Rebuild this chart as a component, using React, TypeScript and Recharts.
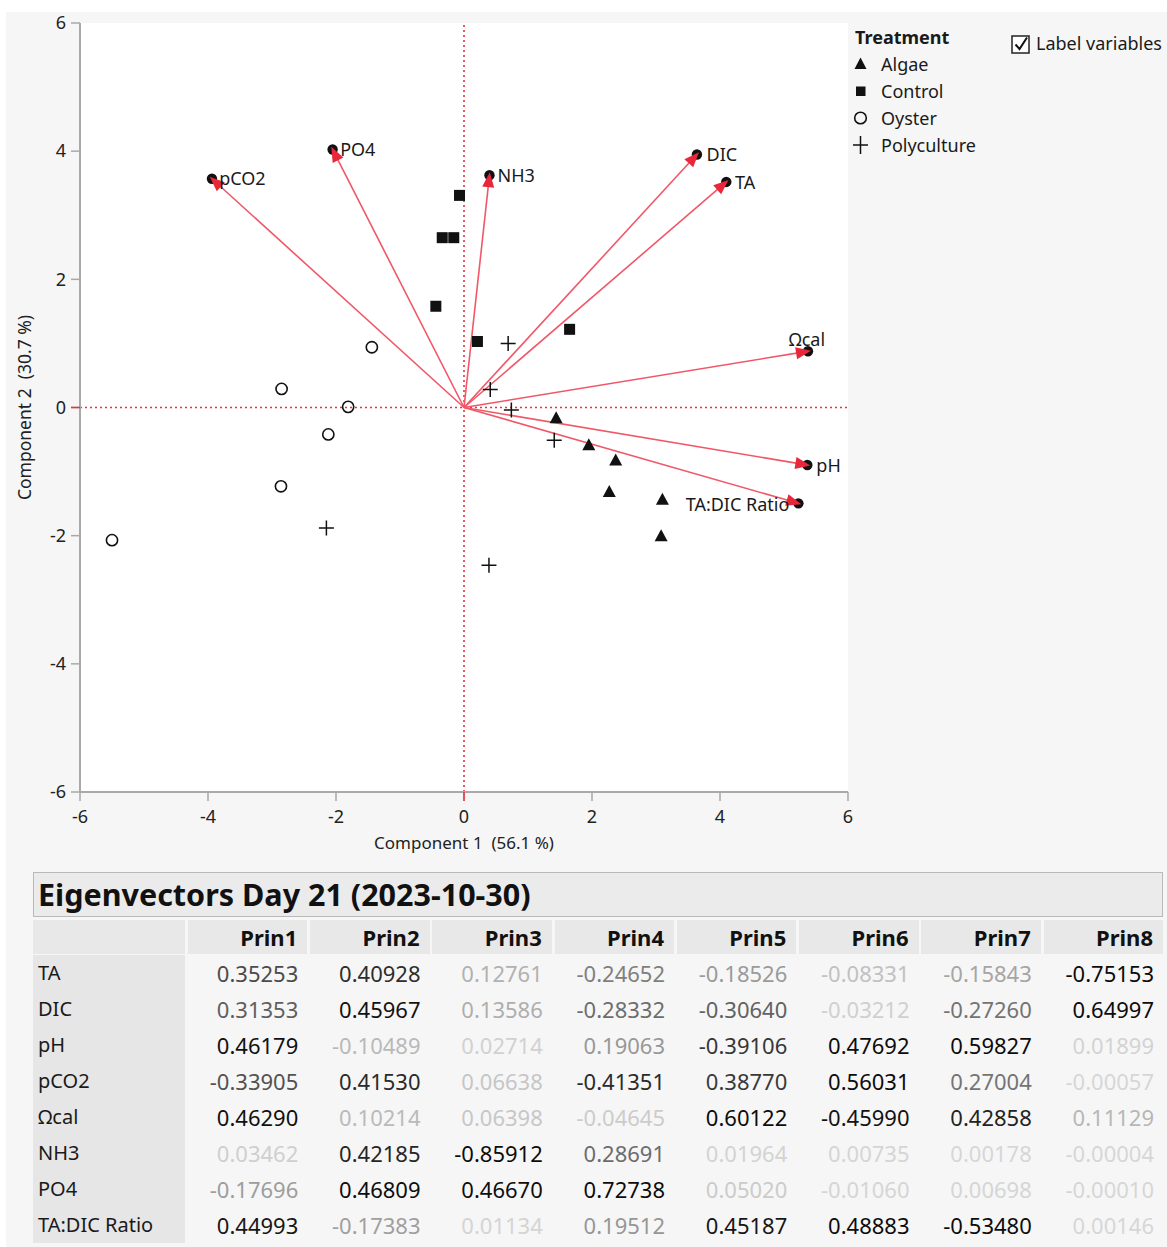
import React from "react";
import {
  ScatterChart,
  Scatter,
  XAxis,
  YAxis,
  CartesianGrid,
  ReferenceLine,
  Legend,
} from "recharts";

// score points per treatment (Component 1, Component 2)
const treatments = ["Algae", "Control", "Oyster", "Polyculture"];

const algaeX = [1.44, 1.95, 2.37, 2.27, 3.1, 3.08];
const algaeY = [-0.16, -0.58, -0.82, -1.31, -1.43, -2.0];

const controlX = [-0.07, -0.34, -0.16, -0.44, 0.21, 1.65];
const controlY = [3.31, 2.65, 2.65, 1.58, 1.03, 1.22];

const oysterX = [-1.44, -2.85, -1.81, -2.12, -2.86, -5.5];
const oysterY = [0.94, 0.29, 0.01, -0.42, -1.23, -2.07];

const polyX = [0.69, 0.41, 0.74, 1.41, -2.15, 0.39];
const polyY = [1.0, 0.28, -0.04, -0.51, -1.88, -2.46];

// loading vectors (biplot arrow tips)
const variableNames = ["TA", "DIC", "pH", "pCO2", "Ωcal", "NH3", "PO4", "TA:DIC Ratio"];
const vectorX = [4.11, 3.65, 5.38, -3.95, 5.39, 0.4, -2.06, 5.24];
const vectorY = [3.53, 3.96, -0.9, 3.58, 0.88, 3.64, 4.04, -1.5];

const axisTicks = [-6, -4, -2, 0, 2, 4, 6];

// eigenvector table
const prinColumns = ["Prin1", "Prin2", "Prin3", "Prin4", "Prin5", "Prin6", "Prin7", "Prin8"];
const eigenTA = [0.35253, 0.40928, 0.12761, -0.24652, -0.18526, -0.08331, -0.15843, -0.75153];
const eigenDIC = [0.31353, 0.45967, 0.13586, -0.28332, -0.3064, -0.03212, -0.2726, 0.64997];
const eigenPH = [0.46179, -0.10489, 0.02714, 0.19063, -0.39106, 0.47692, 0.59827, 0.01899];
const eigenPCO2 = [-0.33905, 0.4153, 0.06638, -0.41351, 0.3877, 0.56031, 0.27004, -0.00057];
const eigenOmega = [0.4629, 0.10214, 0.06398, -0.04645, 0.60122, -0.4599, 0.42858, 0.11129];
const eigenNH3 = [0.03462, 0.42185, -0.85912, 0.28691, 0.01964, 0.00735, 0.00178, -0.00004];
const eigenPO4 = [-0.17696, 0.46809, 0.4667, 0.72738, 0.0502, -0.0106, 0.00698, -0.0001];
const eigenRatio = [0.44993, -0.17383, 0.01134, 0.19512, 0.45187, 0.48883, -0.5348, 0.00146];

const eigenRows = [eigenTA, eigenDIC, eigenPH, eigenPCO2, eigenOmega, eigenNH3, eigenPO4, eigenRatio];

const FONT = "'Noto Sans', 'Open Sans', sans-serif";
const axisGray = "#a9a9a9";
const zeroRed = "#e8323f";
const arrowLine = "#f05868";
const arrowHead = "#e8283a";
const ink = "#111";
const TICK = 9;

// where each variable name sits relative to its arrow tip
const labelPlacement: Record<string, { dx: number; dy: number; anchor: "start" | "middle" | "end" }> = {
  "Ωcal": { dx: -2, dy: -11, anchor: "middle" },
  "TA:DIC Ratio": { dx: -10, dy: 1, anchor: "end" },
  DIC: { dx: 9, dy: 1, anchor: "start" },
};

function toPoints(xs: number[], ys: number[]) {
  return xs.map((x, i) => ({ x, y: ys[i] }));
}

function Marker({ kind, cx, cy }: { kind: string; cx: number; cy: number }) {
  if (kind === "Algae")
    return (
      <polygon
        points={`${cx},${cy - 6.5} ${cx - 6.5},${cy + 5.5} ${cx + 6.5},${cy + 5.5}`}
        fill={ink}
      />
    );
  if (kind === "Control")
    return <rect x={cx - 5.5} y={cy - 5.5} width={11} height={11} fill={ink} />;
  if (kind === "Oyster")
    return <circle cx={cx} cy={cy} r={5.6} fill="none" stroke={ink} strokeWidth={1.6} />;
  return (
    <path
      d={`M${cx - 7.5},${cy}H${cx + 7.5}M${cx},${cy - 7.5}V${cy + 7.5}`}
      stroke={ink}
      strokeWidth={1.5}
      fill="none"
    />
  );
}

function VectorArrow(props: any, name: string) {
  const { x1, y1, x2, y2 } = props;
  const ang = Math.atan2(y2 - y1, x2 - x1);
  const cos = Math.cos(ang);
  const sin = Math.sin(ang);
  // arrow tip reaches just past the black end dot's centre
  const tx = x2 + 2 * cos;
  const ty = y2 + 2 * sin;
  const len = 15;
  const half = 6;
  const bx = tx - len * cos;
  const by = ty - len * sin;
  const px = -sin * half;
  const py = cos * half;
  const place = labelPlacement[name] ?? { dx: 8, dy: 1, anchor: "start" };
  return (
    <g>
      <line x1={x1} y1={y1} x2={bx + 2 * cos} y2={by + 2 * sin} stroke={arrowLine} strokeWidth={1.6} />
      <circle cx={x2 - 1 * cos} cy={y2 - 1 * sin} r={5.2} fill={ink} />
      <polygon points={`${tx},${ty} ${bx + px},${by + py} ${bx - px},${by - py}`} fill={arrowHead} />
      <text
        x={x2 + place.dx}
        y={y2 + place.dy}
        dy="0.35em"
        textAnchor={place.anchor}
        fontSize={18}
        fontFamily={FONT}
        fill="#1a1a1a"
      >
        {name}
      </text>
    </g>
  );
}

function XTick({ x, y, payload }: any) {
  return (
    <g>
      {payload.value === 0 && (
        <line x1={x} x2={x} y1={y - 9 - TICK} y2={y - 9} stroke={zeroRed} strokeWidth={1.5} />
      )}
      <text x={x} y={y} dy="0.71em" textAnchor="middle" fontSize={18} fontFamily={FONT} fill="#222">
        {payload.value}
      </text>
    </g>
  );
}

function YTick({ x, y, payload }: any) {
  return (
    <g>
      {payload.value === 0 && (
        <line x1={x + 5} x2={x + 5 + TICK} y1={y} y2={y} stroke={zeroRed} strokeWidth={1.5} />
      )}
      <text x={x} y={y} dy="0.35em" textAnchor="end" fontSize={18} fontFamily={FONT} fill="#222">
        {payload.value}
      </text>
    </g>
  );
}

function XTitle({ viewBox }: any) {
  const { x, y, width, height } = viewBox;
  return (
    <text
      x={x + width / 2}
      y={y + height - 13}
      textAnchor="middle"
      fontSize={17}
      fontFamily={FONT}
      fill="#222"
      style={{ whiteSpace: "pre" }}
    >
      {"Component 1  (56.1 %)"}
    </text>
  );
}

function YTitle({ viewBox }: any) {
  const { y, height } = viewBox;
  const cx = 25;
  const cy = y + height / 2;
  return (
    <text
      x={cx}
      y={cy}
      dy="0.35em"
      textAnchor="middle"
      transform={`rotate(-90 ${cx} ${cy})`}
      fontSize={17.5}
      fontFamily={FONT}
      fill="#222"
      style={{ whiteSpace: "pre" }}
    >
      {"Component 2  (30.7 %)"}
    </text>
  );
}

function LegendIcon({ kind }: { kind: string }) {
  return (
    <svg width={15} height={20} style={{ display: "block" }}>
      {kind === "Polyculture" ? (
        <path d="M0,10H15M7.5,1V19" stroke={ink} strokeWidth={1.5} fill="none" />
      ) : kind === "Control" ? (
        <rect x={3} y={5.5} width={9.5} height={9.5} fill={ink} />
      ) : kind === "Oyster" ? (
        <circle cx={7.5} cy={10} r={5.8} fill="none" stroke={ink} strokeWidth={1.6} />
      ) : (
        <polygon points="7.5,3.5 1.5,15 13.5,15" fill={ink} />
      )}
    </svg>
  );
}

function TreatmentLegend() {
  const row: React.CSSProperties = {
    display: "flex",
    alignItems: "center",
    height: 27,
    fontSize: 18,
    fontFamily: FONT,
    color: "#1a1a1a",
    whiteSpace: "nowrap",
  };
  return (
    <div>
      <div style={{ ...row, fontWeight: 700, paddingLeft: 3 }}>Treatment</div>
      {treatments.map((t) => (
        <div key={t} style={row}>
          <div style={{ width: 15, marginRight: 13, marginLeft: 1 }}>
            <LegendIcon kind={t} />
          </div>
          {t}
        </div>
      ))}
    </div>
  );
}

function shade(v: number) {
  const t = Math.min(Math.abs(v) / 0.47, 1);
  const g = Math.round(214 - 202 * Math.pow(t, 1.3));
  return `rgb(${g},${g},${g})`;
}

function EigenTable() {
  const colTemplate = "152px repeat(8, 119.5px)";
  const gap = 2.75;
  return (
    <div style={{ position: "absolute", left: 33, top: 872, width: 1130, fontFamily: FONT }}>
      <div
        style={{
          height: 43,
          border: "1px solid #b9b9b9",
          background: "#ebebeb",
          fontWeight: 700,
          fontSize: 30.5,
          lineHeight: "43px",
          paddingLeft: 4,
          color: "#111",
          whiteSpace: "nowrap",
        }}
      >
        Eigenvectors Day 21 (2023-10-30)
      </div>
      <div
        style={{
          display: "grid",
          gridTemplateColumns: colTemplate,
          columnGap: gap,
          marginTop: 3,
          height: 34,
        }}
      >
        <div style={{ background: "#e8e8e8" }} />
        {prinColumns.map((c) => (
          <div
            key={c}
            style={{
              background: "#e8e8e8",
              textAlign: "right",
              paddingRight: 10,
              fontWeight: 700,
              fontSize: 22,
              lineHeight: "34px",
              color: "#111",
            }}
          >
            {c}
          </div>
        ))}
      </div>
      <div
        style={{
          display: "grid",
          gridTemplateColumns: colTemplate,
          columnGap: gap,
          marginTop: 1,
        }}
      >
        {variableNames.map((name, r) => (
          <React.Fragment key={name}>
            <div
              style={{
                background: "#e6e6e6",
                height: 36,
                lineHeight: "36px",
                fontSize: 20,
                paddingLeft: 5,
                color: "#1a1a1a",
                whiteSpace: "nowrap",
              }}
            >
              {name}
            </div>
            {eigenRows[r].map((v, c) => (
              <div
                key={c}
                style={{
                  height: 36,
                  lineHeight: "36px",
                  textAlign: "right",
                  paddingRight: 9,
                  fontSize: 22,
                  color: shade(v),
                }}
              >
                {v.toFixed(5)}
              </div>
            ))}
          </React.Fragment>
        ))}
      </div>
    </div>
  );
}

export default function App() {
  const series = [
    toPoints(algaeX, algaeY),
    toPoints(controlX, controlY),
    toPoints(oysterX, oysterY),
    toPoints(polyX, polyY),
  ];

  return (
    <div
      style={{
        position: "absolute",
        left: 0,
        top: 0,
        width: 1167,
        height: 1247,
        background: "#ffffff",
        overflow: "hidden",
      }}
    >
      <div
        style={{
          position: "absolute",
          left: 6,
          top: 12,
          width: 1161,
          height: 1235,
          background: "#f6f6f6",
        }}
      />
      <div style={{ position: "absolute", left: 0, top: 0 }}>
        <ScatterChart
          width={1167}
          height={862}
          margin={{ top: 23, right: 319, bottom: 0, left: 0 }}
        >
          <CartesianGrid horizontal={false} vertical={false} fill="#ffffff" />
          <XAxis
            type="number"
            dataKey="x"
            domain={[-6, 6]}
            ticks={axisTicks}
            allowDataOverflow
            height={70}
            tickSize={TICK}
            tickMargin={9}
            stroke={axisGray}
            axisLine={{ stroke: axisGray, strokeWidth: 2 }}
            tickLine={{ stroke: axisGray, strokeWidth: 1.5 }}
            tick={<XTick />}
            label={<XTitle />}
          />
          <YAxis
            type="number"
            dataKey="y"
            domain={[-6, 6]}
            ticks={axisTicks}
            allowDataOverflow
            width={80}
            tickSize={TICK}
            tickMargin={5}
            stroke={axisGray}
            axisLine={{ stroke: axisGray, strokeWidth: 2 }}
            tickLine={{ stroke: axisGray, strokeWidth: 1.5 }}
            tick={<YTick />}
            label={<YTitle />}
          />
          {/* frame on the top and right of the plot */}
          <XAxis
            xAxisId="top"
            orientation="top"
            type="number"
            domain={[-6, 6]}
            height={0}
            tick={false}
            tickLine={false}
            axisLine={{ stroke: axisGray, strokeWidth: 2 }}
          />
          <YAxis
            yAxisId="right"
            orientation="right"
            type="number"
            domain={[-6, 6]}
            width={0}
            tick={false}
            tickLine={false}
            axisLine={{ stroke: axisGray, strokeWidth: 2 }}
          />
          <ReferenceLine x={0} stroke={zeroRed} strokeWidth={1.6} strokeDasharray="2 3" />
          <ReferenceLine y={0} stroke={zeroRed} strokeWidth={1.6} strokeDasharray="2 3" />
          {treatments.map((t, i) => (
            <Scatter
              key={t}
              name={t}
              data={series[i]}
              isAnimationActive={false}
              shape={(p: any) => <Marker kind={t} cx={p.cx} cy={p.cy} />}
            />
          ))}
          {variableNames.map((name, i) => (
            <ReferenceLine
              key={name}
              segment={[
                { x: 0, y: 0 },
                { x: vectorX[i], y: vectorY[i] },
              ]}
              ifOverflow="visible"
              shape={(p: any) => VectorArrow(p, name)}
            />
          ))}
          <Legend
            layout="vertical"
            align="center"
            verticalAlign="middle"
            wrapperStyle={{ left: 852, top: 23.5, width: 150, height: 140 }}
            content={() => <TreatmentLegend />}
          />
        </ScatterChart>
      </div>
      <div
        style={{
          position: "absolute",
          left: 1011,
          top: 31,
          display: "flex",
          alignItems: "center",
          fontFamily: FONT,
          fontSize: 18,
          color: "#1a1a1a",
          whiteSpace: "nowrap",
        }}
      >
        <svg width={20} height={21} style={{ display: "block", marginRight: 5 }}>
          <rect x={1} y={3} width={17} height={17} fill="#fff" stroke="#222" strokeWidth={1.5} />
          <path d="M4.5,11.5 L8.5,16 L16,4.5" stroke="#111" strokeWidth={2} fill="none" />
        </svg>
        Label variables
      </div>
      <EigenTable />
    </div>
  );
}
